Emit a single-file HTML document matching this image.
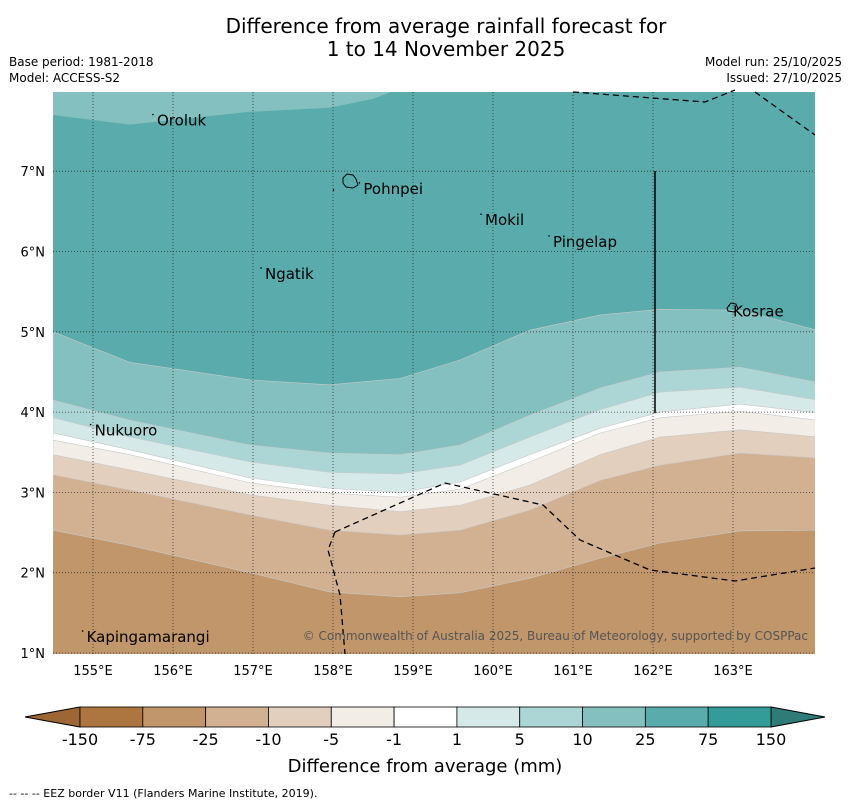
<!DOCTYPE html>
<html><head><meta charset="utf-8"><style>
body{margin:0;background:#fff;font-family:"DejaVu Sans","Liberation Sans",sans-serif}
svg text{font-family:"DejaVu Sans","Liberation Sans",sans-serif}
</style></head><body>
<svg id="chart" width="850" height="804" viewBox="0 0 850 804" xmlns="http://www.w3.org/2000/svg">
<text x="446" y="33" font-size="20" text-anchor="middle">Difference from average rainfall forecast for</text>
<text x="446" y="56" font-size="20" text-anchor="middle">1 to 14 November 2025</text>
<text x="9" y="66" font-size="12">Base period: 1981-2018</text>
<text x="9" y="82" font-size="12">Model: ACCESS-S2</text>
<text x="842" y="66" font-size="12" text-anchor="end">Model run: 25/10/2025</text>
<text x="842" y="82" font-size="12" text-anchor="end">Issued: 27/10/2025</text>
<defs><clipPath id="mapclip"><rect x="53" y="92" width="762" height="562"/></clipPath></defs>
<g id="map" clip-path="url(#mapclip)"></g>
<g id="overlay"></g>
<g id="cbar"></g>
<text x="425" y="772" font-size="18" text-anchor="middle">Difference from average (mm)</text>
<text x="9" y="797" font-size="11">--  --  -- EEZ border V11 (Flanders Marine Institute, 2019).</text>
</svg>
<script>
const lons = [154.5,155.46,156.96,157.96,158.84,159.59,160.46,161.34,162.09,163.09,164.05];
const topBandLons = [154.5,155.46,156.96,157.96,158.5,158.9];
const topBandLats = [7.70,7.58,7.74,7.79,7.90,8.05];
const b75to25 = [5.00,4.62,4.40,4.34,4.42,4.65,5.02,5.21,5.28,5.27,5.02];
const b25to10 = [4.15,3.90,3.59,3.49,3.47,3.59,3.96,4.30,4.50,4.56,4.37];
const b10to5  = [3.93,3.69,3.38,3.25,3.23,3.34,3.69,4.03,4.25,4.31,4.15];
const b5to1   = [3.74,3.53,3.18,3.05,3.00,3.13,3.47,3.80,4.00,4.10,3.99];
const b1tom1  = [3.65,3.47,3.12,2.99,2.94,3.04,3.38,3.74,3.93,4.01,3.90];
const bm5tom10= [3.47,3.28,2.97,2.84,2.76,2.84,3.09,3.47,3.69,3.78,3.69];
const bm10tom25=[3.22,3.03,2.72,2.53,2.47,2.53,2.78,3.15,3.34,3.49,3.43];
const bm25tom75=[2.53,2.34,2.00,1.76,1.70,1.75,1.93,2.18,2.37,2.52,2.53];
const cbTicks = ["-150","-75","-25","-10","-5","-1","1","5","10","25","75","150"];
const cbColors = ["#ad7540","#c0966a","#d2b193","#e3cfbe","#f2ede7","#ffffff","#d5e9e8","#acd6d5","#84c0bf","#5aabac","#339b98"];
const lonTicks = [155,156,157,158,159,160,161,162,163];
const latTicks = [1,2,3,4,5,6,7];
const places = [["Oroluk",155.75,7.63],["Pohnpei",158.33,6.78],["Mokil",159.85,6.39],["Pingelap",160.7,6.12],["Ngatik",157.1,5.72],["Kosrae",162.95,5.25],["Nukuoro",154.97,3.77],["Kapingamarangi",154.87,1.2]];
const NS="http://www.w3.org/2000/svg";
const X = lon => 53 + (lon-154.5)*80;
const Y = lat => 653 - (lat-1)*80.3;
function mk(tag, attrs, parent){const e=document.createElementNS(NS,tag);for(const k in attrs)e.setAttribute(k,attrs[k]);parent.appendChild(e);return e;}
const map=document.getElementById('map');
let bg=mk('rect',{x:53,y:92,width:762,height:562,fill:"#5aabac"},map);


// top light band
let tp = topBandLons.map((l,i)=>X(l)+","+Y(topBandLats[i])).join(" ");
let topb=mk('polygon',{points:"53,85 "+tp+" 53,85",fill:"#84c0bf"},map);


const bounds=[b75to25,b25to10,b10to5,b5to1,b1tom1,bm5tom10,bm10tom25,bm25tom75];
const fills=["#84c0bf","#acd6d5","#d5e9e8","#ffffff","#f2ede7","#e3cfbe","#d2b193","#c0966a"];
bounds.forEach((b,k)=>{
  const pts=lons.map((l,i)=>X(l)+","+Y(b[i])).join(" ");
  const p=mk('polygon',{points:pts+" 820,660 50,660",fill:fills[k],stroke:"#c8c8c8","stroke-width":0.6},map);
  
  
});
const ov=document.getElementById('overlay');
lonTicks.forEach(l=>{
  const g=mk('line',{x1:X(l),x2:X(l),y1:92,y2:654,stroke:"#333","stroke-width":0.8,"stroke-dasharray":"1,2"},ov);
  
  
  const t=mk('text',{x:X(l),y:675,"font-size":13,"text-anchor":"middle"},ov);t.textContent=l+"°E";
  
  
});
latTicks.forEach(l=>{
  const g=mk('line',{x1:53,x2:815,y1:Y(l),y2:Y(l),stroke:"#333","stroke-width":0.8,"stroke-dasharray":"1,2"},ov);
  
  
  const t=mk('text',{x:45,y:Y(l)+5,"font-size":13,"text-anchor":"end"},ov);t.textContent=l+"°N";
  
  
});
// EEZ borders
[["335,532 445,483 543,505 580,540 650,570 735,581 815,568"],["335,532 328,550 340,595 345,654"],["573,92 705,102 735,90"],["755,92 815,135"]].forEach(p=>{
  const e=mk('polyline',{points:p[0],fill:"none",stroke:"#000","stroke-width":1.3,"stroke-dasharray":"6,4"},ov);
  
  
});
let vl=mk('line',{x1:655,x2:655,y1:171,y2:413,stroke:"#000","stroke-width":1.5},ov);


let isl=mk('path',{d:"M343,178 l4,-4 l6,1 l3,4 l2,6 l-5,3 l-7,-1 l-3,-4z M333,191 l1,-2",fill:"none",stroke:"#000","stroke-width":1},ov);


let kos=mk('path',{d:"M727,308 l4,-5 l5,1 l2,5 l-4,3 l-6,-1z",fill:"none",stroke:"#000","stroke-width":1},ov);


places.forEach(p=>{
  const t=mk('text',{x:X(p[1])+4,y:Y(p[2])+5,"font-size":15},ov);t.textContent=p[0];
  
  
  const d=mk('circle',{cx:X(p[1]),cy:Y(p[2])-6,r:0.8,fill:"#000"},ov);
  
  
});
let cr=mk('text',{x:808,y:640,"font-size":12,"text-anchor":"end",fill:"#555"},ov);
cr.textContent="© Commonwealth of Australia 2025, Bureau of Meteorology, supported by COSPPac";


// colorbar
const cb=document.getElementById('cbar');
const cx0=80, cw=(771-80)/cbColors.length;
let lt=mk('polygon',{points:"80,707 80,727 25,717",fill:"#9c6635",stroke:"#000","stroke-width":1},cb);


let rt=mk('polygon',{points:"771,707 771,727 825,717",fill:"#2f7b78",stroke:"#000","stroke-width":1},cb);


cbColors.forEach((c,i)=>{
  const r=mk('rect',{x:cx0+i*cw,y:707,width:cw,height:20,fill:c,stroke:"#000","stroke-width":0.8},cb);
  
  
});
cbTicks.forEach((t,i)=>{
  const e=mk('text',{x:cx0+i*cw,y:745,"font-size":16,"text-anchor":"middle"},cb);e.textContent=t;
  
  
});
</script>
</body></html>
